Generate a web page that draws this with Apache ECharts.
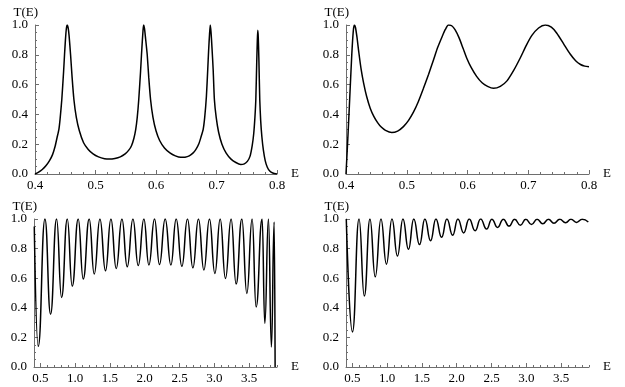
<!DOCTYPE html>
<html>
<head>
<meta charset="utf-8">
<script src="https://cdn.jsdelivr.net/npm/echarts@6/dist/echarts.min.js"></script>
<style>
  html, body { margin: 0; padding: 0; background: #fff; }
  #main { width: 625px; height: 387px; }
</style>
</head>
<body>
<div id="main"></div>
<script>
// panel 1 (top left): narrow resonances, E from 0.4 to 0.8
const e1 = [0.400, 0.406, 0.412, 0.418, 0.424, 0.429, 0.4335, 0.4365, 0.4395, 0.4415, 0.4443, 0.4473, 0.4488, 0.4503, 0.4518, 0.4533, 0.4548, 0.4563, 0.4588, 0.4613, 0.4643, 0.4683, 0.4733, 0.4803, 0.4880, 0.4960, 0.505, 0.515, 0.523, 0.532, 0.541, 0.549, 0.555, 0.5595, 0.5635, 0.5665, 0.5690, 0.5715, 0.5745, 0.5760, 0.5775, 0.5785, 0.5795, 0.5810, 0.5825, 0.5855, 0.5880, 0.5910, 0.5950, 0.6000, 0.6060, 0.6140, 0.6230, 0.6320, 0.6410, 0.6480, 0.6550, 0.6610, 0.6660, 0.6710, 0.6745, 0.6780, 0.6805, 0.6833, 0.6855, 0.6870, 0.6885, 0.6897, 0.6910, 0.6925, 0.6945, 0.6965, 0.6995, 0.7035, 0.7090, 0.7160, 0.7240, 0.7320, 0.7400, 0.7460, 0.7510, 0.7555, 0.7590, 0.7615, 0.7635, 0.7650, 0.7665, 0.7675, 0.7682, 0.7690, 0.7700, 0.7715, 0.7730, 0.7750, 0.7775, 0.7805, 0.7840, 0.7880, 0.7930, 0.8000];
const t1 = [0.000, 0.012, 0.030, 0.055, 0.090, 0.130, 0.190, 0.245, 0.300, 0.370, 0.500, 0.690, 0.800, 0.900, 0.975, 1.000, 0.980, 0.930, 0.800, 0.650, 0.500, 0.380, 0.290, 0.210, 0.165, 0.135, 0.115, 0.103, 0.100, 0.104, 0.115, 0.135, 0.160, 0.190, 0.240, 0.300, 0.380, 0.500, 0.690, 0.800, 0.900, 0.960, 1.000, 0.975, 0.920, 0.800, 0.650, 0.500, 0.380, 0.290, 0.225, 0.175, 0.142, 0.122, 0.112, 0.113, 0.122, 0.140, 0.165, 0.205, 0.250, 0.300, 0.380, 0.520, 0.700, 0.830, 0.940, 1.000, 0.950, 0.850, 0.700, 0.500, 0.380, 0.280, 0.200, 0.140, 0.100, 0.077, 0.064, 0.068, 0.085, 0.120, 0.190, 0.270, 0.380, 0.500, 0.750, 0.900, 0.965, 0.920, 0.780, 0.500, 0.360, 0.250, 0.160, 0.090, 0.045, 0.020, 0.007, 0.000];

// panel 2 (top right): broad resonances
const e2 = [0.400, 0.4035, 0.4066, 0.4095, 0.412, 0.4137, 0.4155, 0.418, 0.421, 0.425, 0.429, 0.434, 0.440, 0.446, 0.452, 0.458, 0.465, 0.4753, 0.485, 0.4945, 0.503, 0.511, 0.519, 0.5275, 0.536, 0.544, 0.551, 0.558, 0.5635, 0.5687, 0.574, 0.5797, 0.586, 0.593, 0.599, 0.606, 0.615, 0.624, 0.633, 0.6428, 0.654, 0.665, 0.676, 0.687, 0.697, 0.706, 0.717, 0.728, 0.738, 0.747, 0.758, 0.769, 0.778, 0.786, 0.793, 0.800];
const t2 = [0.000, 0.280, 0.550, 0.800, 0.960, 1.000, 0.985, 0.920, 0.820, 0.700, 0.610, 0.520, 0.440, 0.385, 0.345, 0.315, 0.293, 0.278, 0.288, 0.318, 0.360, 0.415, 0.485, 0.575, 0.670, 0.765, 0.850, 0.920, 0.970, 1.000, 0.995, 0.967, 0.915, 0.840, 0.775, 0.715, 0.655, 0.612, 0.588, 0.575, 0.588, 0.625, 0.695, 0.780, 0.865, 0.930, 0.980, 1.000, 0.985, 0.945, 0.875, 0.805, 0.760, 0.735, 0.724, 0.720];

// panel 3 (bottom left): peaks and troughs across the whole band
const e3 = [0.414, 0.471, 0.567, 0.648, 0.734, 0.806, 0.888, 0.959, 1.045, 1.117, 1.203, 1.275, 1.357, 1.437, 1.515, 1.591, 1.673, 1.749, 1.831, 1.907, 1.988, 2.060, 2.141, 2.212, 2.294, 2.376, 2.452, 2.534, 2.614, 2.692, 2.772, 2.850, 2.930, 3.008, 3.084, 3.160, 3.241, 3.313, 3.395, 3.467, 3.543, 3.600, 3.686, 3.725, 3.777, 3.820, 3.859, 3.873];
const t3 = [0.95, 0.14, 1, 0.357, 1, 0.47, 1, 0.546, 1, 0.594, 1, 0.628, 1, 0.65, 1, 0.666, 1, 0.677, 1, 0.685, 1, 0.69, 1, 0.692, 1, 0.689, 1, 0.68, 1, 0.67, 1, 0.655, 1, 0.632, 1, 0.598, 1, 0.56, 1, 0.497, 1, 0.406, 1, 0.294, 1, 0.135, 0.98, 0];

// panel 4 (bottom right): damped oscillation towards 1
const e4 = [0.414, 0.503, 0.597, 0.673, 0.754, 0.830, 0.912, 0.991, 1.070, 1.149, 1.228, 1.307, 1.383, 1.466, 1.543, 1.625, 1.701, 1.783, 1.859, 1.942, 2.017, 2.100, 2.179, 2.265, 2.343, 2.429, 2.505, 2.586, 2.670, 2.751, 2.832, 2.914, 2.992, 3.074, 3.155, 3.236, 3.317, 3.397, 3.480, 3.564, 3.641, 3.720, 3.803, 3.890];
const t4 = [1.0, 0.237, 1, 0.479, 1, 0.609, 1, 0.695, 1, 0.75, 1, 0.795, 1, 0.827, 1, 0.853, 1, 0.876, 1, 0.891, 1, 0.906, 1, 0.92, 1, 0.932, 0.999, 0.943, 0.999, 0.952, 0.998, 0.958, 0.998, 0.963, 0.998, 0.968, 0.998, 0.972, 0.998, 0.975, 0.998, 0.977, 0.998, 0.98];

const wideMajor = [0.5, 1.0, 1.5, 2.0, 2.5, 3.0, 3.5];
const wideMinor = [0.6, 0.7, 0.8, 0.9, 1.1, 1.2, 1.3, 1.4, 1.6, 1.7, 1.8, 1.9, 2.1, 2.2, 2.3, 2.4, 2.6, 2.7, 2.8, 2.9, 3.1, 3.2, 3.3, 3.4, 3.6, 3.7, 3.8, 3.9];

const font = "'Liberation Serif', 'Times New Roman', serif";
const axisColor = '#6e6e6e';
const labelStyle = { color: '#000', fontFamily: font, fontSize: 13 };

function pairs(xs, ys) {
  return xs.map((x, i) => [x, ys[i]]);
}

function yAxis(g) {
  return {
    type: 'value', gridIndex: g, min: 0, max: 1, interval: 0.2,
    name: 'T(E)', nameLocation: 'end', nameGap: 6,
    nameTextStyle: { color: '#000', fontFamily: font, fontSize: 13, align: 'right', padding: [0, -3, 0, 0] },
    axisLine: { show: true, lineStyle: { color: axisColor, width: 1 } },
    axisTick: { show: true, inside: true, length: 4, lineStyle: { color: axisColor } },
    minorTick: { show: true, splitNumber: 4, length: 2, lineStyle: { color: axisColor } },
    axisLabel: Object.assign({ margin: 7, formatter: v => v.toFixed(1) }, labelStyle),
    splitLine: { show: false }
  };
}

function xName() {
  return {
    name: 'E', nameLocation: 'end', nameGap: 14,
    nameTextStyle: { color: '#000', fontFamily: font, fontSize: 13, verticalAlign: 'middle' }
  };
}

function xAxisNarrow(g) {
  return Object.assign({
    type: 'value', gridIndex: g, min: 0.4, max: 0.8, interval: 0.1,
    axisLine: { show: true, onZero: false, lineStyle: { color: axisColor, width: 1 } },
    axisTick: { show: true, inside: true, length: 4, lineStyle: { color: axisColor } },
    minorTick: { show: true, splitNumber: 5, length: 2, lineStyle: { color: axisColor } },
    axisLabel: Object.assign({ margin: 5, formatter: v => v.toFixed(1) }, labelStyle),
    splitLine: { show: false }
  }, xName());
}

function xAxisWide(g) {
  return Object.assign({
    type: 'value', gridIndex: g, min: 0.41, max: 3.9,
    axisLine: { show: true, onZero: false, lineStyle: { color: axisColor, width: 1 } },
    axisTick: { show: true, inside: true, length: 4, customValues: wideMajor, lineStyle: { color: axisColor } },
    axisLabel: Object.assign({ margin: 5, customValues: wideMajor, formatter: v => v.toFixed(1) }, labelStyle),
    splitLine: { show: false }
  }, xName());
}

function xAxisWideMinor(g) {
  return {
    type: 'value', gridIndex: g, min: 0.41, max: 3.9, position: 'bottom',
    axisLine: { show: false },
    axisTick: { show: true, inside: true, length: 2, customValues: wideMinor, lineStyle: { color: axisColor } },
    axisLabel: { show: false },
    splitLine: { show: false }
  };
}

function curve(xi, yi, data, smooth, mono) {
  return {
    type: 'line', xAxisIndex: xi, yAxisIndex: yi, data: data,
    showSymbol: false, smooth: smooth, smoothMonotone: mono ? 'x' : undefined,
    lineStyle: { color: '#000', width: 1.5 }, clip: true
  };
}

const chart = echarts.init(document.getElementById('main'), null, { renderer: 'canvas' });
chart.setOption({
  animation: false,
  backgroundColor: '#fff',
  grid: [
    { left: 35, top: 25, width: 242, height: 149 },
    { left: 346, top: 25, width: 243, height: 149 },
    { left: 34, top: 219, width: 243, height: 148 },
    { left: 346, top: 219, width: 243, height: 148 }
  ],
  xAxis: [xAxisNarrow(0), xAxisNarrow(1), xAxisWide(2), xAxisWide(3), xAxisWideMinor(2), xAxisWideMinor(3)],
  yAxis: [yAxis(0), yAxis(1), yAxis(2), yAxis(3)],
  series: [
    curve(0, 0, pairs(e1, t1), 0.2, false),
    curve(1, 1, pairs(e2, t2), 0.25, false),
    curve(2, 2, pairs(e3, t3), 0.5, true),
    curve(3, 3, pairs(e4, t4), 0.5, true)
  ]
});
</script>
</body>
</html>
